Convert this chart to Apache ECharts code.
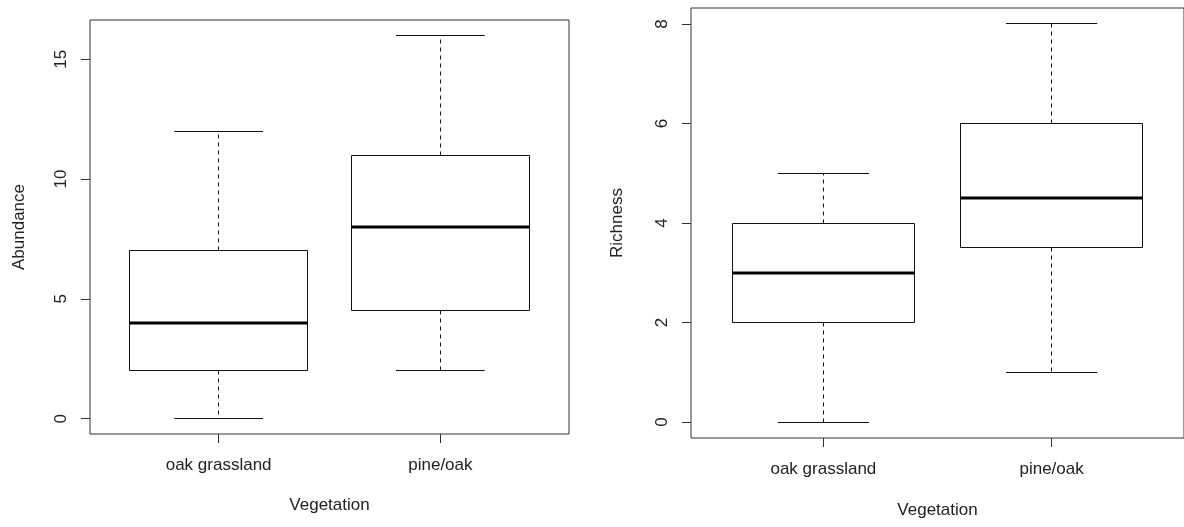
<!DOCTYPE html>
<html>
<head>
<meta charset="utf-8">
<script src="https://cdn.jsdelivr.net/npm/echarts@6/dist/echarts.min.js"></script>
<style>
html,body{margin:0;padding:0;background:#fff;}
#chart{width:1184px;height:527px;}
</style>
</head>
<body>
<div id="chart"></div>
<script>
// ---- data ----
const categories = ['oak grassland', 'pine/oak'];
// [min, Q1, median, Q3, max]
const abundanceStats = [[0, 2, 4, 7, 12], [2, 4.5, 8, 11, 16]];
const richnessStats  = [[0, 2, 3, 4, 5], [1, 3.5, 4.5, 6, 8]];
const abundanceTicks = [0, 5, 10, 15];
const richnessTicks  = [0, 2, 4, 6, 8];
const xTicks = [1, 2];
const xLabel = 'Vegetation';
const yLabels = ['Abundance', 'Richness'];

const FONT = 'Liberation Sans, Arial, sans-serif';
const TXT = '#222';
const LINE = '#111';

function toRows(stats) {
  return stats.map((s, i) => [i + 1].concat(s));
}

function crisp(v) { return Math.round(v - 0.5) + 0.5; }

function renderBox(params, api) {
  const x = api.value(0);
  const lo = api.value(1), q1 = api.value(2), med = api.value(3), q3 = api.value(4), hi = api.value(5);
  const c = (a, b) => api.coord([a, b]);
  const bl = c(x - 0.4, q1), tr = c(x + 0.4, q3);
  const cx = crisp(c(x, 0)[0]);
  const capL = c(x - 0.2, 0)[0], capR = c(x + 0.2, 0)[0];
  const yHi = crisp(c(x, hi)[1]), yLo = crisp(c(x, lo)[1]);
  const yQ1 = crisp(bl[1]), yQ3 = crisp(tr[1]);
  const x0 = crisp(bl[0]), x1 = crisp(tr[0]);
  const yMed = Math.round(c(x, med)[1]);
  return {
    type: 'group',
    children: [
      { type: 'line', shape: { x1: cx, y1: yQ3, x2: cx, y2: yHi }, style: { stroke: LINE, lineWidth: 1, lineDash: [4, 4] } },
      { type: 'line', shape: { x1: cx, y1: yQ1, x2: cx, y2: yLo }, style: { stroke: LINE, lineWidth: 1, lineDash: [4, 4] } },
      { type: 'line', shape: { x1: capL, y1: yHi, x2: capR, y2: yHi }, style: { stroke: LINE, lineWidth: 1 } },
      { type: 'line', shape: { x1: capL, y1: yLo, x2: capR, y2: yLo }, style: { stroke: LINE, lineWidth: 1 } },
      { type: 'rect', shape: { x: x0, y: yQ3, width: x1 - x0, height: yQ1 - yQ3 }, style: { fill: '#fff', stroke: LINE, lineWidth: 1 } },
      { type: 'line', shape: { x1: x0, y1: yMed, x2: x1, y2: yMed }, style: { stroke: '#000', lineWidth: 3 } }
    ]
  };
}

function xAxisOpt(gridIndex, margin, nameGap) {
  return {
    type: 'value', gridIndex: gridIndex, min: 0.42, max: 2.58,
    splitLine: { show: false },
    axisLine: { show: false, onZero: false },
    axisTick: { show: true, customValues: xTicks, length: 9, lineStyle: { color: '#333' } },
    axisLabel: { customValues: xTicks, formatter: v => categories[Math.round(v) - 1] || '', fontFamily: FONT, fontSize: 17, color: TXT, margin: margin },
    name: xLabel, nameLocation: 'middle', nameGap: nameGap,
    nameTextStyle: { fontFamily: FONT, fontSize: 17, color: TXT }
  };
}

function yAxisOpt(gridIndex, min, max, ticks, name, nameGap) {
  return {
    type: 'value', gridIndex: gridIndex, min: min, max: max,
    splitLine: { show: false },
    axisLine: { show: false, onZero: false },
    axisTick: { show: true, customValues: ticks, length: 9, lineStyle: { color: '#333' } },
    axisLabel: { customValues: ticks, rotate: 90, fontFamily: FONT, fontSize: 17, color: TXT, margin: 20 },
    name: name, nameLocation: 'middle', nameGap: nameGap,
    nameTextStyle: { fontFamily: FONT, fontSize: 17, color: TXT }
  };
}

const chart = echarts.init(document.getElementById('chart'), null, { renderer: 'canvas' });
chart.setOption({
  backgroundColor: '#fff',
  animation: false,
  grid: [
    { left: 90, top: 20, width: 479, height: 414, show: true, borderColor: '#333', borderWidth: 1, backgroundColor: 'transparent' },
    { left: 691, top: 8, width: 493, height: 430, show: true, borderColor: '#333', borderWidth: 1, backgroundColor: 'transparent' }
  ],
  xAxis: [xAxisOpt(0, 23, 63), xAxisOpt(1, 23, 64)],
  yAxis: [
    yAxisOpt(0, -0.64, 16.64, abundanceTicks, yLabels[0], 62),
    yAxisOpt(1, -0.32, 8.32, richnessTicks, yLabels[1], 65)
  ],
  series: [
    { type: 'custom', xAxisIndex: 0, yAxisIndex: 0, data: toRows(abundanceStats), encode: { x: 0, y: [1, 5] }, renderItem: renderBox, clip: false },
    { type: 'custom', xAxisIndex: 1, yAxisIndex: 1, data: toRows(richnessStats), encode: { x: 0, y: [1, 5] }, renderItem: renderBox, clip: false }
  ]
});
</script>
</body>
</html>
